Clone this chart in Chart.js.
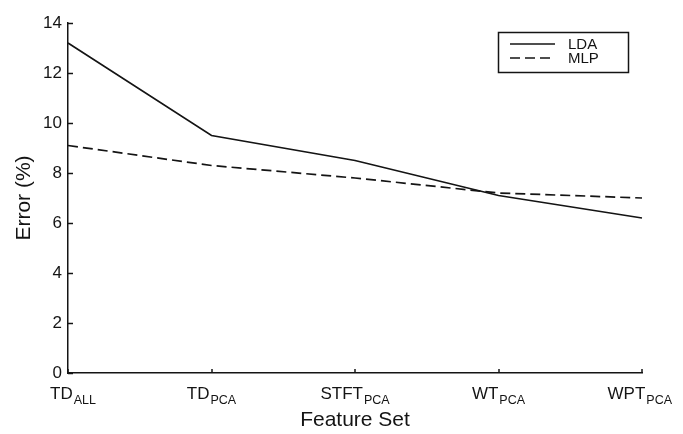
<!DOCTYPE html>
<html>
<head>
<meta charset="utf-8">
<script src="https://cdn.jsdelivr.net/npm/chart.js@4/dist/chart.umd.min.js"></script>
<style>
  html, body { margin: 0; padding: 0; background: #fff; }
  #wrap { width: 683px; height: 434px; }
</style>
</head>
<body>
<div id="wrap"><canvas id="chart"></canvas></div>
<script>
/************************ data *********************************/
const featureMain = ["TD", "TD", "STFT", "WT", "WPT"];
const featureSub = ["ALL", "PCA", "PCA", "PCA", "PCA"];
const ldaError = [13.2, 9.5, 8.5, 7.1, 6.2];
const mlpError = [9.1, 8.3, 7.8, 7.2, 7.0];
const yTicks = [0, 2, 4, 6, 8, 10, 12, 14];

const FONT = "'Liberation Sans', Arial, sans-serif";
const INK = "#141414";

// inward tick marks, subscripted category labels and the boxed legend
const decorPlugin = {
  id: "decor",
  afterDraw(chart) {
    const ctx = chart.ctx;
    const xs = chart.scales.x;
    const ys = chart.scales.y;
    const area = chart.chartArea;
    ctx.save();
    ctx.strokeStyle = INK;
    ctx.lineWidth = 1.5;
    // y ticks pointing right
    yTicks.forEach(function (v) {
      const py = Math.round(ys.getPixelForValue(v)) + 0.5;
      ctx.beginPath();
      ctx.moveTo(area.left, py);
      ctx.lineTo(area.left + 5, py);
      ctx.stroke();
    });
    // x ticks pointing up
    featureMain.forEach(function (m, i) {
      const px = Math.round(xs.getPixelForValue(i));
      ctx.beginPath();
      ctx.moveTo(px, area.bottom);
      ctx.lineTo(px, area.bottom - 4);
      ctx.stroke();
    });
    // category labels with subscript
    ctx.fillStyle = INK;
    ctx.textBaseline = "alphabetic";
    ctx.textAlign = "left";
    featureMain.forEach(function (m, i) {
      ctx.font = "17px " + FONT;
      const wMain = ctx.measureText(m).width;
      ctx.font = "12.5px " + FONT;
      const wSub = ctx.measureText(featureSub[i]).width;
      const total = wMain + 1 + wSub;
      let x0 = xs.getPixelForValue(i) - total / 2;
      x0 = Math.max(50, Math.min(x0, 672 - total));
      ctx.font = "17px " + FONT;
      ctx.fillText(m, x0, area.bottom + 26);
      ctx.font = "12.5px " + FONT;
      ctx.fillText(featureSub[i], x0 + wMain + 1, area.bottom + 31);
    });
    // legend
    const bx = 498, by = 32, bw = 130, bh = 40;
    ctx.lineWidth = 1.5;
    ctx.strokeRect(bx + 0.5, by + 0.5, bw, bh);
    chart.data.datasets.forEach(function (ds, i) {
      const ly = by + 12 + i * 14;
      ctx.beginPath();
      ctx.setLineDash(ds.borderDash || []);
      ctx.lineWidth = ds.borderWidth;
      ctx.strokeStyle = ds.borderColor;
      ctx.moveTo(bx + 12, ly);
      ctx.lineTo(bx + 57, ly);
      ctx.stroke();
      ctx.setLineDash([]);
      ctx.font = "15px " + FONT;
      ctx.textBaseline = "middle";
      ctx.fillText(ds.label, bx + 70, ly + 1);
    });
    ctx.restore();
  },
};

const ctxA = document.getElementById("chart").getContext("2d");
const myChart = new Chart(ctxA, {
  type: "line",
  data: {
    labels: featureMain.map(function (m, i) { return m + featureSub[i]; }),
    datasets: [
      {
        label: "LDA",
        data: ldaError,
        borderColor: INK,
        borderWidth: 1.7,
        pointRadius: 0,
        tension: 0,
        fill: false,
      },
      {
        label: "MLP",
        data: mlpError,
        borderColor: INK,
        borderWidth: 1.7,
        borderDash: [10, 5],
        pointRadius: 0,
        tension: 0,
        fill: false,
      },
    ],
  },
  options: {
    responsive: true,
    maintainAspectRatio: false,
    animation: false,
    layout: {
      padding: { left: 0, top: 23, right: 41, bottom: 0 },
    },
    plugins: {
      legend: { display: false },
      tooltip: { enabled: false },
    },
    scales: {
      x: {
        type: "category",
        offset: false,
        grid: { display: true, drawOnChartArea: false, drawTicks: false },
        border: { display: true, color: INK, width: 1.5 },
        ticks: { display: false },
        title: {
          display: true,
          text: "Feature Set",
          color: INK,
          font: { family: FONT, size: 21 },
          padding: { top: 0, bottom: 1 },
        },
        afterFit: function (scale) { scale.height = 61; },
      },
      y: {
        min: 0,
        max: 14,
        grid: { display: true, drawOnChartArea: false, drawTicks: false },
        border: { display: true, color: INK, width: 1.5 },
        ticks: {
          stepSize: 2,
          padding: 6,
          color: INK,
          font: { family: FONT, size: 17 },
        },
        title: {
          display: true,
          text: "Error (%)",
          color: INK,
          font: { family: FONT, size: 21 },
          padding: { top: 12, bottom: 0 },
        },
        afterFit: function (scale) { scale.width = 68; },
      },
    },
  },
  plugins: [decorPlugin],
});
</script>
</body>
</html>
